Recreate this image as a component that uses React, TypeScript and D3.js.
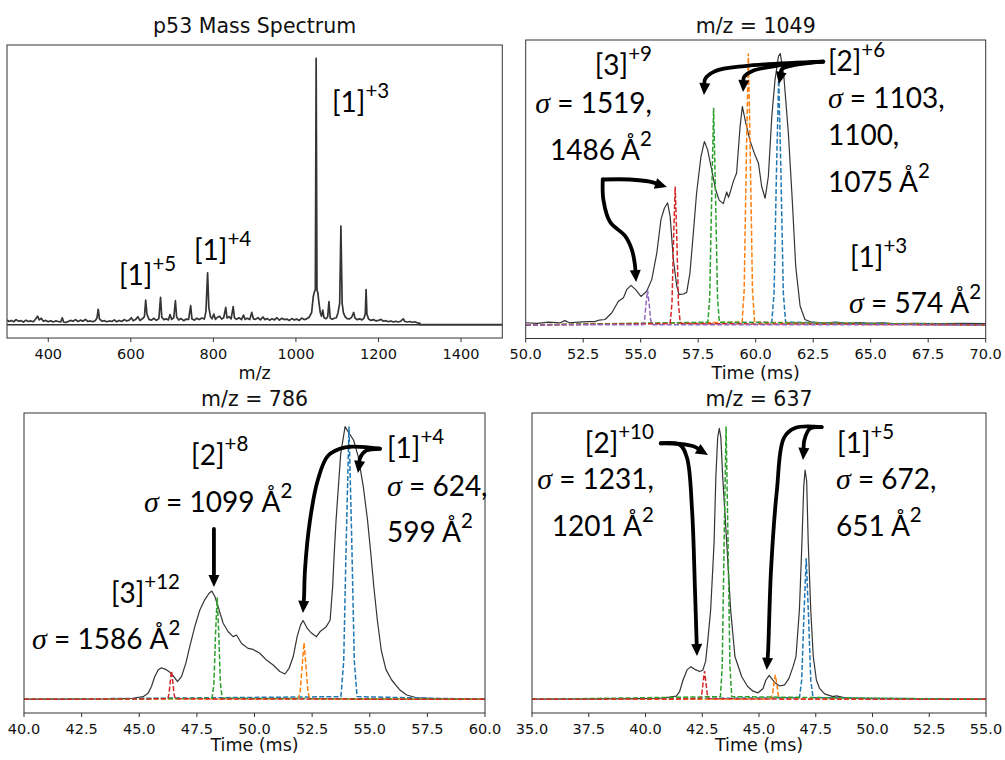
import * as d3 from 'd3';

type Pt = [number, number];

// ---- mass spectrum: m/z vs relative intensity (base peak = 100) ----
const MZ_TICKS = [400, 600, 800, 1000, 1200, 1400];
const SPECTRUM: Pt[] = [
  [300, 1.8], [305, 1.2], [310, 1.6], [316, 1.1], [322, 1.9], [328, 1.3], [334, 1.5], [340, 1.0],
  [346, 1.7], [352, 1.2], [358, 1.4], [364, 1.1], [370, 2.2], [374, 3.2], [378, 1.8], [383, 2.4],
  [388, 1.3], [394, 1.6], [400, 1.1], [406, 1.5], [412, 1.0], [418, 1.4], [424, 1.2], [430, 1.0],
  [434, 2.6], [437, 1.0], [442, 0.8], [448, 1.2], [454, 1.6], [460, 1.3], [466, 1.9], [472, 1.2],
  [478, 1.7], [484, 1.3], [490, 2.0], [496, 1.2], [502, 1.4], [508, 1.1], [514, 1.6], [518, 2.5],
  [521, 5.8], [524, 2.2], [530, 1.3], [536, 1.5], [542, 1.1], [548, 1.4], [554, 1.2], [560, 1.8],
  [566, 1.1], [572, 1.6], [578, 1.2], [584, 1.9], [590, 1.4], [596, 1.7], [601, 2.6], [606, 1.5],
  [612, 2.0], [617, 3.0], [622, 1.6], [628, 2.2], [633, 3.0], [636, 9.2], [639, 4.0], [644, 2.0],
  [650, 1.7], [656, 2.4], [662, 1.6], [668, 2.3], [672, 10.3], [675, 2.8], [680, 1.9], [686, 2.2],
  [691, 1.8], [695, 3.8], [699, 2.0], [704, 2.6], [708, 9.0], [711, 2.9], [716, 1.8], [722, 2.3],
  [728, 1.5], [734, 2.1], [740, 2.0], [745, 7.2], [748, 2.2], [754, 1.7], [760, 2.4], [766, 1.9],
  [772, 2.5], [778, 2.1], [782, 5.0], [786, 19.5], [789, 6.5], [793, 3.0], [797, 2.2], [801, 4.0],
  [805, 2.0], [810, 2.8], [815, 3.2], [820, 2.1], [825, 2.6], [830, 6.5], [833, 2.5], [838, 3.0],
  [843, 2.2], [848, 6.8], [851, 2.6], [856, 2.0], [862, 2.6], [868, 1.9], [873, 3.6], [877, 2.0],
  [882, 2.4], [888, 1.9], [893, 4.6], [897, 2.2], [902, 2.0], [908, 2.6], [914, 1.8], [920, 2.9],
  [925, 1.9], [930, 2.3], [936, 1.7], [942, 2.2], [948, 1.8], [954, 2.6], [960, 1.7], [966, 2.4],
  [972, 1.9], [978, 2.1], [984, 1.6], [990, 2.3], [996, 1.8], [1002, 2.1], [1008, 1.6], [1014, 2.5],
  [1020, 1.9], [1026, 2.2], [1032, 2.8], [1038, 4.5], [1042, 10.5], [1045, 12.5], [1047, 13.0],
  [1049, 100], [1051, 13.0], [1053, 12.0], [1056, 8.0], [1059, 4.5], [1062, 3.2], [1065, 5.5],
  [1068, 2.6], [1073, 2.2], [1077, 3.0], [1080, 8.7], [1083, 2.5], [1088, 2.0], [1093, 2.4],
  [1098, 2.6], [1102, 4.5], [1106, 8.0], [1109, 37], [1112, 8.0], [1115, 4.5], [1119, 3.0],
  [1124, 2.3], [1130, 2.2], [1135, 2.8], [1140, 4.6], [1143, 2.5], [1148, 1.9], [1154, 2.2],
  [1160, 1.8], [1165, 2.5], [1168, 4.0], [1170, 13.2], [1172, 4.0], [1176, 2.1], [1182, 1.6],
  [1188, 1.9], [1194, 1.4], [1200, 1.6], [1206, 2.0], [1212, 1.3], [1218, 1.5], [1224, 1.1],
  [1230, 1.4], [1236, 1.0], [1242, 1.3], [1248, 1.0], [1254, 1.3], [1260, 2.2], [1264, 1.2],
  [1270, 1.0], [1276, 1.2], [1282, 0.9], [1288, 1.1], [1294, 0.7], [1300, 0.6], [1301, 0], [1500, 0],
];
const SPECTRUM_ZERO: Pt[] = [[300, 0], [1500, 0]];
const SPECTRUM_LABELS = [
  { t: 571.4, v: 14.9, anchor: 'start', text: '[1]^+5' },
  { t: 753.1, v: 24.3, anchor: 'start', text: '[1]^+4' },
  { t: 1087.4, v: 79.9, anchor: 'start', text: '[1]^+3' },
];

// ---- arrival time distributions (normalised) ----
const FIT_COLORS = ['#1f77b4', '#ff7f0e', '#2ca02c', '#d62728', '#9467bd'];

const TICKS_1049 = [50, 52.5, 55, 57.5, 60, 62.5, 65, 67.5, 70];
const ATD_1049: Pt[] = [
  [50, 0.008], [50.5, 0.006], [51, 0.01], [51.5, 0.008], [51.7, 0.016], [51.9, 0.008], [52.3, 0.01],
  [52.7, 0.012], [53.0, 0.012], [53.2, 0.018], [53.45, 0.02], [53.74, 0.044], [54.03, 0.087],
  [54.25, 0.1], [54.39, 0.13], [54.58, 0.146], [54.78, 0.13], [55.01, 0.105], [55.26, 0.124],
  [55.48, 0.167], [55.7, 0.265], [55.88, 0.388], [56.03, 0.43], [56.17, 0.45], [56.28, 0.4],
  [56.42, 0.24], [56.57, 0.142], [56.67, 0.112], [56.86, 0.114], [57.0, 0.12], [57.14, 0.19],
  [57.29, 0.34], [57.43, 0.486], [57.62, 0.62], [57.77, 0.676], [57.91, 0.645], [58.09, 0.57],
  [58.26, 0.498], [58.41, 0.46], [58.59, 0.447], [58.74, 0.49], [58.82, 0.47], [58.88, 0.486],
  [59.03, 0.53], [59.17, 0.56], [59.32, 0.73], [59.42, 0.805], [59.57, 0.744], [59.75, 0.68],
  [59.94, 0.633], [60.12, 0.596], [60.26, 0.51], [60.41, 0.467], [60.55, 0.547], [60.7, 0.768],
  [60.84, 0.903], [60.99, 0.99], [61.07, 1.0], [61.22, 0.92], [61.42, 0.707], [61.59, 0.46],
  [61.74, 0.216], [61.93, 0.07], [62.14, 0.02], [62.43, 0.01], [63, 0.008], [63.5, 0.01], [64, 0.006],
  [64.5, 0.009], [65, 0.006], [65.5, 0.008], [66, 0.005], [67, 0.006], [68, 0.005], [69, 0.006], [70, 0.005],
];
const FITS_1049: Pt[][] = [
  [[50, 0], [60.7, 0.01], [60.8, 0.12], [60.9, 0.55], [61.0, 0.915], [61.1, 0.55], [61.2, 0.12], [61.3, 0.01], [70, 0]],
  [[50, 0], [59.41, 0.01], [59.5, 0.13], [59.59, 0.6], [59.68, 1.0], [59.77, 0.6], [59.86, 0.13], [59.95, 0.01], [70, 0]],
  [[50, 0], [57.92, 0.01], [58.0, 0.1], [58.08, 0.45], [58.17, 0.8], [58.26, 0.45], [58.34, 0.1], [58.42, 0.01], [70, 0]],
  [[50, 0], [56.28, 0.005], [56.36, 0.08], [56.43, 0.32], [56.5, 0.51], [56.57, 0.32], [56.64, 0.08], [56.72, 0.005], [70, 0]],
  [[50, 0], [55.1, 0.001], [55.17, 0.02], [55.23, 0.075], [55.3, 0.128], [55.37, 0.075], [55.43, 0.02], [55.5, 0.001], [70, 0]],
];
const ARROWS_1049: Pt[][] = [
  [[53.35, 0.536], [54.53, 0.536], [55.4, 0.528], [56.14, 0.508]],
  [[53.35, 0.536], [53.38, 0.46], [53.67, 0.379], [54.32, 0.328], [54.62, 0.276], [54.75, 0.221], [54.8, 0.158]],
  [[62.94, 0.97], [59.53, 0.954], [58.23, 0.935], [57.8, 0.906], [57.75, 0.847]],
  [[62.94, 0.97], [60.84, 0.954], [59.84, 0.935], [59.49, 0.913], [59.45, 0.858]],
  [[62.94, 0.97], [61.71, 0.958], [61.14, 0.943], [61.01, 0.888]],
];
const LABELS_1049 = [
  { t: 55.49, v: 0.921, anchor: 'end', text: '[3]^+9' },
  { t: 55.49, v: 0.781, anchor: 'end', text: 'σ = 1519,' },
  { t: 55.49, v: 0.608, anchor: 'end', text: '1486 Å^2' },
  { t: 63.14, v: 0.936, anchor: 'start', text: '[2]^+6' },
  { t: 63.14, v: 0.799, anchor: 'start', text: 'σ = 1103,' },
  { t: 63.14, v: 0.663, anchor: 'start', text: '1100,' },
  { t: 63.14, v: 0.49, anchor: 'start', text: '1075 Å^2' },
  { t: 64.1, v: 0.213, anchor: 'start', text: '[1]^+3' },
  { t: 64.06, v: 0.044, anchor: 'start', text: 'σ = 574 Å^2' },
];

const TICKS_786 = [40, 42.5, 45, 47.5, 50, 52.5, 55, 57.5, 60];
const ATD_786: Pt[] = [
  [40, 0.001], [42, 0.001], [44.0, 0.002], [44.73, 0.004], [45.17, 0.01], [45.38, 0.022], [45.53, 0.047],
  [45.67, 0.083], [45.82, 0.108], [45.96, 0.116], [46.14, 0.11], [46.32, 0.1], [46.5, 0.083],
  [46.66, 0.065], [46.83, 0.083], [47.02, 0.132], [47.19, 0.193], [47.41, 0.267], [47.63, 0.328],
  [47.84, 0.365], [48.03, 0.389], [48.15, 0.397], [48.28, 0.377], [48.42, 0.34], [48.64, 0.279],
  [48.86, 0.248], [49.07, 0.23], [49.22, 0.236], [49.44, 0.205], [49.72, 0.187], [49.94, 0.183],
  [50.23, 0.169], [50.52, 0.144], [50.81, 0.126], [51.1, 0.102], [51.32, 0.093], [51.5, 0.114],
  [51.68, 0.157], [51.85, 0.23], [52.0, 0.273], [52.11, 0.289], [52.29, 0.26], [52.47, 0.243],
  [52.69, 0.23], [52.86, 0.25], [53.1, 0.265], [53.28, 0.29], [53.39, 0.413], [53.46, 0.537],
  [53.54, 0.659], [53.64, 0.78], [53.74, 0.9], [53.93, 1.0], [54.0, 0.99], [54.3, 0.95], [54.5, 0.89],
  [54.72, 0.78], [54.9, 0.66], [55.04, 0.54], [55.18, 0.41], [55.33, 0.29], [55.5, 0.18], [55.7, 0.11],
  [55.95, 0.071], [56.31, 0.034], [56.6, 0.016], [57.03, 0.006], [57.76, 0.003], [60, 0.001],
];
const FITS_786: Pt[][] = [
  [[40, 0], [53.75, 0.01], [53.87, 0.14], [53.98, 0.58], [54.1, 1.0], [54.22, 0.58], [54.33, 0.14], [54.45, 0.01], [60, 0]],
  [[40, 0], [51.9, 0.002], [51.98, 0.027], [52.07, 0.125], [52.15, 0.208], [52.23, 0.125], [52.32, 0.027], [52.4, 0.002], [60, 0]],
  [[40, 0], [48.16, 0.004], [48.24, 0.06], [48.31, 0.24], [48.38, 0.373], [48.45, 0.24], [48.52, 0.06], [48.6, 0.004], [60, 0]],
  [[40, 0], [46.24, 0.002], [46.29, 0.02], [46.35, 0.068], [46.4, 0.104], [46.45, 0.068], [46.51, 0.02], [46.56, 0.002], [60, 0]],
];
const ARROWS_786: Pt[][] = [
  [[48.24, 0.625], [48.24, 0.412]],
  [[55.44, 0.919], [53.93, 0.924], [53.19, 0.893], [52.75, 0.805], [52.41, 0.658], [52.19, 0.475], [52.15, 0.376], [52.1, 0.317]],
  [[55.44, 0.919], [54.84, 0.912], [54.58, 0.885], [54.49, 0.83]],
];
const LABELS_786 = [
  { t: 47.25, v: 0.859, anchor: 'start', text: '[2]^+8' },
  { t: 45.21, v: 0.687, anchor: 'start', text: 'σ = 1099 Å^2' },
  { t: 43.77, v: 0.353, anchor: 'start', text: '[3]^+12' },
  { t: 40.35, v: 0.185, anchor: 'start', text: 'σ = 1586 Å^2' },
  { t: 55.75, v: 0.885, anchor: 'start', text: '[1]^+4' },
  { t: 55.75, v: 0.746, anchor: 'start', text: 'σ = 624,' },
  { t: 55.75, v: 0.577, anchor: 'start', text: '599 Å^2' },
];

const TICKS_637 = [35, 37.5, 40, 42.5, 45, 47.5, 50, 52.5, 55];
const ATD_637: Pt[] = [
  [35, 0.001], [38, 0.002], [39.9, 0.003], [40.62, 0.004], [41.06, 0.008], [41.36, 0.012], [41.5, 0.028],
  [41.65, 0.07], [41.83, 0.108], [42.0, 0.12], [42.17, 0.11], [42.39, 0.102], [42.53, 0.108],
  [42.65, 0.14], [42.75, 0.22], [42.87, 0.328], [43.02, 0.572], [43.1, 0.817], [43.18, 0.96],
  [43.25, 0.994], [43.32, 0.96], [43.4, 0.817], [43.58, 0.572], [43.75, 0.328], [43.94, 0.157],
  [44.24, 0.083], [44.5, 0.047], [44.74, 0.03], [44.96, 0.024], [45.18, 0.04], [45.3, 0.07],
  [45.45, 0.088], [45.69, 0.062], [45.91, 0.049], [46.13, 0.053], [46.32, 0.077], [46.5, 0.12],
  [46.63, 0.157], [46.78, 0.328], [46.89, 0.572], [46.97, 0.78], [47.03, 0.841], [47.1, 0.8],
  [47.17, 0.572], [47.28, 0.328], [47.39, 0.157], [47.53, 0.07], [47.67, 0.04], [47.89, 0.02],
  [48.26, 0.01], [48.4, 0.013], [48.85, 0.005], [49.73, 0.003], [55, 0.001],
];
const FITS_637: Pt[][] = [
  [[35, 0], [46.78, 0.006], [46.88, 0.07], [46.98, 0.31], [47.08, 0.517], [47.18, 0.31], [47.28, 0.07], [47.38, 0.006], [55, 0]],
  [[35, 0], [45.52, 0.001], [45.59, 0.015], [45.65, 0.055], [45.72, 0.09], [45.79, 0.055], [45.85, 0.015], [45.92, 0.001], [55, 0]],
  [[35, 0], [43.3, 0.01], [43.38, 0.12], [43.47, 0.61], [43.55, 1.0], [43.63, 0.61], [43.72, 0.12], [43.8, 0.01], [55, 0]],
  [[35, 0], [42.42, 0.002], [42.48, 0.02], [42.54, 0.063], [42.6, 0.104], [42.66, 0.063], [42.72, 0.02], [42.78, 0.002], [55, 0]],
];
const ARROWS_637: Pt[][] = [
  [[40.67, 0.939], [41.52, 0.937], [42.14, 0.927], [42.75, 0.896]],
  [[40.67, 0.939], [41.52, 0.933], [41.83, 0.885], [42.05, 0.695], [42.18, 0.4], [42.25, 0.218], [42.27, 0.159]],
  [[47.76, 0.998], [46.59, 0.995], [46.1, 0.959], [45.79, 0.768], [45.53, 0.475], [45.4, 0.174], [45.34, 0.108]],
  [[47.76, 0.998], [47.25, 0.993], [47.0, 0.951], [46.94, 0.878]],
];
const LABELS_637 = [
  { t: 40.37, v: 0.904, anchor: 'end', text: '[2]^+10' },
  { t: 40.37, v: 0.772, anchor: 'end', text: 'σ = 1231,' },
  { t: 40.37, v: 0.599, anchor: 'end', text: '1201 Å^2' },
  { t: 48.44, v: 0.904, anchor: 'start', text: '[1]^+5' },
  { t: 48.39, v: 0.772, anchor: 'start', text: 'σ = 672,' },
  { t: 48.39, v: 0.599, anchor: 'start', text: '651 Å^2' },
];

const PANELS = [
  {
    id: 'ms', box: { left: 7, right: 502.3, top: 45, bottom: 338 }, titleY: 32.5, labelY: 379,
    xDomain: [300, 1500], yDomain: [-5, 105], ticks: MZ_TICKS, fmt: d3.format('d'),
    title: 'p53 Mass Spectrum', xlabel: 'm/z', curve: SPECTRUM, zero: SPECTRUM_ZERO, fits: [] as Pt[][],
    arrows: [] as Pt[][], labels: SPECTRUM_LABELS, lw: 1.7,
  },
  {
    id: 'a1049', box: { left: 525.7, right: 985.7, top: 40, bottom: 338.5 }, titleY: 32.5, labelY: 379,
    xDomain: [50, 70], yDomain: [-0.05, 1.05], ticks: TICKS_1049, fmt: d3.format('.1f'),
    title: 'm/z = 1049', xlabel: 'Time (ms)', curve: ATD_1049, zero: null, fits: FITS_1049,
    arrows: ARROWS_1049, labels: LABELS_1049, lw: 1.2,
  },
  {
    id: 'a786', box: { left: 24, right: 485, top: 413, bottom: 713 }, titleY: 406, labelY: 751,
    xDomain: [40, 60], yDomain: [-0.05, 1.05], ticks: TICKS_786, fmt: d3.format('.1f'),
    title: 'm/z = 786', xlabel: 'Time (ms)', curve: ATD_786, zero: null, fits: FITS_786,
    arrows: ARROWS_786, labels: LABELS_786, lw: 1.2,
  },
  {
    id: 'a637', box: { left: 532, right: 986, top: 413, bottom: 713 }, titleY: 406, labelY: 751,
    xDomain: [35, 55], yDomain: [-0.05, 1.05], ticks: TICKS_637, fmt: d3.format('.1f'),
    title: 'm/z = 637', xlabel: 'Time (ms)', curve: ATD_637, zero: null, fits: FITS_637,
    arrows: ARROWS_637, labels: LABELS_637, lw: 1.2,
  },
];

const MPL = "'DejaVu Sans', sans-serif";
const NOTE = "Lato, 'Noto Sans', sans-serif";

function Note({ x, y, anchor, text }: { x: number; y: number; anchor: string; text: string }) {
  const [main, sup] = text.split('^');
  const parts = main.split(/(σ)/).filter(Boolean);
  return (
    <text x={x} y={y} textAnchor={anchor} fontFamily={NOTE} fontSize={28} fill="#000" style={{ whiteSpace: 'pre' }}>
      {parts.map((p, i) =>
        p === 'σ'
          ? <tspan key={i} fontFamily="'Liberation Serif', 'DejaVu Serif', serif" fontStyle="italic" fontSize={30}>σ</tspan>
          : <tspan key={i}>{p}</tspan>
      )}
      {sup && <tspan dy={-14} fontSize={20.5}>{sup}</tspan>}
    </text>
  );
}

const arrowPath = d3.line<Pt>().x((d) => d[0]).y((d) => d[1]).curve(d3.curveCatmullRom.alpha(0.5));

function Arrow({ pts, x, y }: { pts: Pt[]; x: (v: number) => number; y: (v: number) => number }) {
  const px: Pt[] = pts.map((p) => [x(p[0]), y(p[1])]);
  const n = px.length;
  const tip = px[n - 1];
  const prev = px[n - 2];
  const len = Math.hypot(tip[0] - prev[0], tip[1] - prev[1]);
  const ux = (tip[0] - prev[0]) / len;
  const uy = (tip[1] - prev[1]) / len;
  const HEAD = 12;
  const HALF = 5.5;
  const bx = tip[0] - ux * HEAD;
  const by = tip[1] - uy * HEAD;
  const shaft: Pt[] = [...px.slice(0, n - 1), [tip[0] - ux * (HEAD - 3), tip[1] - uy * (HEAD - 3)]];
  const head = `M${tip[0]},${tip[1]}L${bx - uy * HALF},${by + ux * HALF}L${bx + uy * HALF},${by - ux * HALF}Z`;
  return (
    <g>
      <path d={arrowPath(shaft) || ''} fill="none" stroke="#000" strokeWidth={3.8} strokeLinecap="round" />
      <path d={head} fill="#000" />
    </g>
  );
}

function Panel({ cfg }: { cfg: (typeof PANELS)[number] }) {
  const { box } = cfg;
  const x = d3.scaleLinear().domain(cfg.xDomain).range([box.left, box.right]);
  const y = d3.scaleLinear().domain(cfg.yDomain).range([box.bottom, box.top]);
  const line = d3.line<Pt>().x((d) => x(d[0])).y((d) => y(d[1]));
  const cx = (box.left + box.right) / 2;

  return (
    <g>
      <clipPath id={`clip-${cfg.id}`}>
        <rect x={box.left} y={box.top} width={box.right - box.left} height={box.bottom - box.top} />
      </clipPath>
      <g clipPath={`url(#clip-${cfg.id})`}>
        {cfg.zero && <path d={line(cfg.zero) || ''} fill="none" stroke="#333" strokeWidth={1.4} />}
        <path d={line(cfg.curve) || ''} fill="none" stroke="#353535" strokeWidth={cfg.lw} strokeLinejoin="round" />
        {cfg.fits.map((f, i) => (
          <path key={i} d={line(f) || ''} fill="none" stroke={FIT_COLORS[i]} strokeWidth={1.5} strokeDasharray="5,2.2" />
        ))}
      </g>
      <rect x={box.left} y={box.top} width={box.right - box.left} height={box.bottom - box.top}
        fill="none" stroke="#333" strokeWidth={1} />
      {cfg.ticks.map((t) => (
        <g key={t}>
          <line x1={x(t)} x2={x(t)} y1={box.bottom} y2={box.bottom + 4} stroke="#333" strokeWidth={1} />
          <text x={x(t)} y={box.bottom + 20.5} textAnchor="middle" fontFamily={MPL} fontSize={14.5} fill="#111">
            {cfg.fmt(t)}
          </text>
        </g>
      ))}
      <text x={cx} y={cfg.titleY} textAnchor="middle" fontFamily={MPL} fontSize={20.5} fill="#111">{cfg.title}</text>
      <text x={cx} y={cfg.labelY} textAnchor="middle" fontFamily={MPL} fontSize={17.5} fill="#111">{cfg.xlabel}</text>
      {cfg.arrows.map((a, i) => <Arrow key={i} pts={a} x={x} y={y} />)}
      {cfg.labels.map((l, i) => <Note key={i} x={x(l.t)} y={y(l.v)} anchor={l.anchor} text={l.text} />)}
    </g>
  );
}

export default function App() {
  return (
    <svg width={1005} height={760} style={{ position: 'absolute', left: 0, top: 0 }}>
      <rect width={1005} height={760} fill="#fff" />
      {PANELS.map((p) => <Panel key={p.id} cfg={p} />)}
    </svg>
  );
}
